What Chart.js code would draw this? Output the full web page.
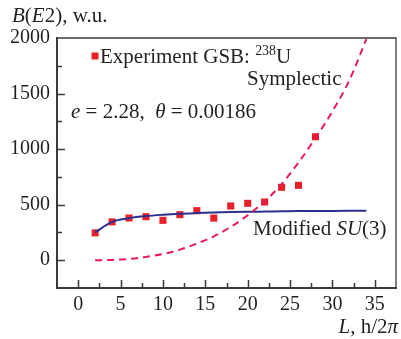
<!DOCTYPE html>
<html>
<head>
<meta charset="utf-8">
<script src="https://cdn.jsdelivr.net/npm/chart.js@4"></script>
<style>
  html, body { margin: 0; padding: 0; background: #fff; }
  #wrap { width: 401px; height: 339px; position: relative; }
</style>
</head>
<body>
<div id="wrap"><canvas id="c"></canvas></div>
<script>
// B(E2) values, ground-state band of 238U
const expL = [2, 4, 6, 8, 10, 12, 14, 16, 18, 20, 22, 24, 26, 28];
const expB = [246, 345, 380, 392, 359, 410, 446, 379, 488, 512, 524, 656, 674, 1111];

const su3L = [2, 4, 6, 8, 10, 12, 14, 16, 18, 20, 22, 24, 26, 28, 30, 32, 34];
const su3B = [250, 345, 378, 397, 409, 418, 424, 429, 433, 436, 438, 440, 442, 443, 444, 445, 446];

const sympL = [2, 4, 6, 8, 10, 12, 14, 16, 18, 20, 22, 24, 26, 28, 30, 32, 34];
const sympB = [0, 3, 12, 30, 55, 95, 150, 215, 300, 405, 530, 685, 880, 1100, 1340, 1620, 1990];

const xTicks = [0, 5, 10, 15, 20, 25, 30, 35];
const yTicks = [0, 500, 1000, 1500, 2000];

const FONT = '"Liberation Serif", "Times New Roman", serif';
const INK = '#231f20';
const pts = (xs, ys) => xs.map((x, i) => ({ x, y: ys[i] }));

function richWidth(ctx, parts, size) {
  let w = 0;
  parts.forEach(p => {
    const s = p.sup ? size * 0.66 : size;
    ctx.font = (p.it ? 'italic ' : '') + s + 'px ' + FONT;
    w += ctx.measureText(p.t).width;
  });
  return w;
}

function richText(ctx, x, y, parts, size) {
  let cx = x;
  parts.forEach(p => {
    const s = p.sup ? size * 0.66 : size;
    ctx.font = (p.it ? 'italic ' : '') + s + 'px ' + FONT;
    ctx.fillText(p.t, cx, y - (p.sup ? size * 0.38 : 0));
    cx += ctx.measureText(p.t).width;
  });
}

const frame = {
  id: 'frame',
  afterDraw(chart) {
    const { ctx, chartArea: a, scales: { x, y } } = chart;
    ctx.save();
    ctx.strokeStyle = '#3a3a3a';
    ctx.lineCap = 'butt';

    // top / right of the box
    ctx.lineWidth = 1.3;
    ctx.beginPath();
    ctx.moveTo(a.left, a.top); ctx.lineTo(a.right, a.top); ctx.lineTo(a.right, a.bottom);
    ctx.stroke();
    // left / bottom axes
    ctx.lineWidth = 2;
    ctx.beginPath();
    ctx.moveTo(a.left, a.top - 1); ctx.lineTo(a.left, a.bottom); ctx.lineTo(a.right + 1, a.bottom);
    ctx.stroke();

    // inward ticks, major and minor
    ctx.lineWidth = 1.5;
    ctx.beginPath();
    for (let v = -2.5; v <= 37.5; v += 2.5) {
      const px = Math.round(x.getPixelForValue(v)) + 0.5;
      if (px <= a.left + 1 || px >= a.right - 1) continue;
      const len = v % 5 === 0 ? 8 : 5;
      ctx.moveTo(px, a.bottom); ctx.lineTo(px, a.bottom - len);
    }
    for (let v = -250; v <= 2000; v += 250) {
      const py = Math.round(y.getPixelForValue(v)) + 0.5;
      if (py <= a.top + 1 || py >= a.bottom - 1) continue;
      const len = v % 500 === 0 ? 8 : 5;
      ctx.moveTo(a.left, py); ctx.lineTo(a.left + len, py);
    }
    ctx.stroke();

    // texts
    ctx.fillStyle = INK;
    ctx.textBaseline = 'alphabetic';
    const sz = 21;
    richText(ctx, 12, 22, [{ t: 'B', it: true }, { t: '(' }, { t: 'E', it: true }, { t: '2), w.u.' }], sz);

    ctx.fillStyle = '#e8202a';
    ctx.fillRect(91.5, 52.5, 7, 7);
    ctx.fillStyle = INK;
    richText(ctx, 100, 63, [{ t: 'Experiment GSB: ' }, { t: '238', sup: true }, { t: 'U' }], sz);
    richText(ctx, 247, 85, [{ t: 'Symplectic' }], sz);
    richText(ctx, 71, 118, [
      { t: 'e', it: true }, { t: ' = 2.28,  ' }, { t: 'θ', it: true }, { t: ' = 0.00186' }
    ], sz);
    richText(ctx, 253, 235, [{ t: 'Modified ' }, { t: 'SU', it: true }, { t: '(3)' }], sz);

    const lab = [{ t: 'L', it: true }, { t: ', h/2' }, { t: 'π', it: true }];
    richText(ctx, 398 - richWidth(ctx, lab, sz), 333, lab, sz);
    ctx.restore();
  }
};

new Chart(document.getElementById('c'), {
  type: 'line',
  data: {
    datasets: [
      {
        label: 'Symplectic',
        data: pts(sympL, sympB),
        borderColor: '#e8195c',
        borderWidth: 2,
        borderDash: [7, 5],
        pointRadius: 0,
        cubicInterpolationMode: 'monotone',
        fill: false,
      },
      {
        label: 'Modified SU(3)',
        data: pts(su3L, su3B),
        borderColor: '#2b2f8e',
        borderWidth: 2,
        pointRadius: 0,
        cubicInterpolationMode: 'monotone',
        fill: false,
      },
      {
        label: 'Experiment GSB',
        data: pts(expL, expB),
        showLine: false,
        pointStyle: 'rect',
        pointRadius: 5,
        pointBackgroundColor: '#e8202a',
        pointBorderWidth: 0,
      },
    ],
  },
  options: {
    responsive: true,
    maintainAspectRatio: false,
    animation: false,
    layout: { padding: { left: 0, right: 4, top: 38, bottom: 0 } },
    plugins: { legend: { display: false }, tooltip: { enabled: false } },
    scales: {
      x: {
        type: 'linear',
        min: -2.5,
        max: 37.5,
        afterBuildTicks: s => { s.ticks = xTicks.map(v => ({ value: v })); },
        afterFit: s => { s.height = 51; },
        grid: { display: false, drawTicks: false },
        border: { display: false },
        ticks: { color: INK, font: { family: FONT, size: 20 }, padding: 5, maxRotation: 0, callback: v => String(v) },
      },
      y: {
        min: -250,
        max: 2000,
        afterBuildTicks: s => { s.ticks = yTicks.map(v => ({ value: v })); },
        afterFit: s => { s.width = 57; },
        grid: { display: false, drawTicks: false },
        border: { display: false },
        ticks: { color: INK, font: { family: FONT, size: 20 }, padding: 7, callback: v => String(v) },
      },
    },
  },
  plugins: [frame],
});
</script>
</body>
</html>
